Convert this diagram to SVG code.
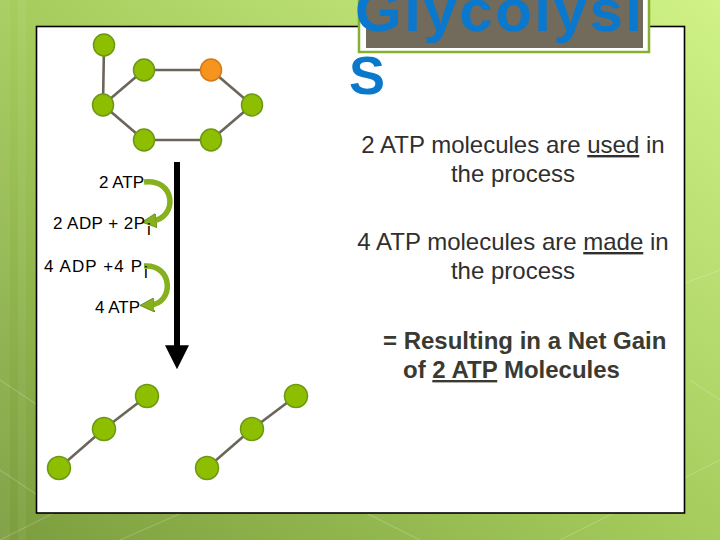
<svg xmlns="http://www.w3.org/2000/svg" width="720" height="540" viewBox="0 0 720 540">
<defs>
<linearGradient id="bg" x1="0" y1="1" x2="1" y2="0">
<stop offset="0" stop-color="#7c9d3e"/>
<stop offset="0.45" stop-color="#a2c85a"/>
<stop offset="1" stop-color="#d0f286"/>
</linearGradient>
<marker id="ah" viewBox="0 0 10 10" refX="2" refY="5" markerWidth="4" markerHeight="4" orient="auto-start-reverse" markerUnits="strokeWidth">
<path d="M0,0 L10,5 L0,10 z" fill="#000"/>
</marker>
<marker id="gh" viewBox="0 0 10 10" refX="3" refY="5" markerWidth="2.6" markerHeight="2.6" orient="auto" markerUnits="strokeWidth">
<path d="M0,0 L10,5 L0,10 z" fill="#86b01e" stroke="#5f8a10" stroke-width="0.6"/>
</marker>
</defs>
<style>
.n{fill:#8dbf00;stroke:#6c9814;stroke-width:1.5}
.o{fill:#f7941e;stroke:#d27a18;stroke-width:1.5}
.e{stroke:#6b665a;stroke-width:2.6;fill:none}
.lbl{font-family:"Liberation Sans",Arial,sans-serif;font-size:17px;fill:#000}
.body{font-family:"Liberation Sans",Arial,sans-serif;font-size:24px;fill:#2f2f2f}
.bold{font-family:"Liberation Sans",Arial,sans-serif;font-size:24px;font-weight:bold;fill:#3a3a30}
.title{font-family:"Liberation Sans",Arial,sans-serif;font-weight:bold;fill:#0a78cc}
.curl{fill:none;stroke:#86b01e;stroke-width:5.5}
</style>
<rect width="720" height="540" fill="url(#bg)"/>
<g stroke="#ffffff" stroke-opacity="0.18" stroke-width="1.2" fill="none">
<path d="M0,470 L60,510 L0,540"/>
<path d="M0,380 L90,440 L36,480"/>
<path d="M120,540 L280,470 L420,540"/>
<path d="M560,540 L720,460"/>
<path d="M640,300 L720,270"/>
<path d="M690,380 L720,400"/>
</g>
<g fill="#ffffff" fill-opacity="0.06">
<rect x="0" y="0" width="10" height="540"/>
<rect x="18" y="0" width="8" height="540"/>
</g>
<rect id="panel" x="36.5" y="26.5" width="648" height="486.5" fill="#ffffff" stroke="#000" stroke-width="1.6"/>
<g id="title">
<rect x="359" y="-10" width="290" height="62" fill="#ffffff" stroke="#86b030" stroke-width="2.5"/>
<rect x="366" y="-10" width="277" height="58" fill="#726a5b"/>
<text class="title" x="355" y="31" font-size="60" textLength="287" lengthAdjust="spacing">Glycolysi</text>
<text class="title" x="349" y="94" font-size="54">S</text>
</g>
<g id="connectors">
<line class="e" x1="104" y1="45" x2="103" y2="105"/>
<line class="e" x1="103" y1="105" x2="144" y2="70"/>
<line class="e" x1="144" y1="70" x2="211" y2="70"/>
<line class="e" x1="211" y1="70" x2="252" y2="105"/>
<line class="e" x1="252" y1="105" x2="211" y2="140"/>
<line class="e" x1="211" y1="140" x2="144" y2="140"/>
<line class="e" x1="144" y1="140" x2="103" y2="105"/>
<line class="e" x1="59" y1="468" x2="104" y2="429"/>
<line class="e" x1="104" y1="429" x2="147" y2="396"/>
<line class="e" x1="207" y1="468" x2="252" y2="429"/>
<line class="e" x1="252" y1="429" x2="296" y2="396"/>
<line x1="177" y1="162" x2="177" y2="350" stroke="#000" stroke-width="6" marker-end="url(#ah)"/>
<path class="curl" d="M144,182 C176,178 178,218 152,221" marker-end="url(#gh)"/>
<path class="curl" d="M144,266 C174,264 174,304 150,305" marker-end="url(#gh)"/>
</g>
<g id="n1"><ellipse class="n" cx="104" cy="45" rx="10.5" ry="11"/></g>
<g id="n2"><ellipse class="n" cx="144" cy="70" rx="10.5" ry="11"/></g>
<g id="n3"><ellipse class="o" cx="211" cy="70" rx="10.5" ry="11"/></g>
<g id="n4"><ellipse class="n" cx="252" cy="105" rx="10.5" ry="11"/></g>
<g id="n5"><ellipse class="n" cx="211" cy="140" rx="10.5" ry="11"/></g>
<g id="n6"><ellipse class="n" cx="144" cy="140" rx="10.5" ry="11"/></g>
<g id="n7"><ellipse class="n" cx="103" cy="105" rx="10.5" ry="11"/></g>
<g id="m1"><circle class="n" cx="59" cy="468" r="11.5"/></g>
<g id="m2"><circle class="n" cx="104" cy="429" r="11.5"/></g>
<g id="m3"><circle class="n" cx="147" cy="396" r="11.5"/></g>
<g id="m4"><circle class="n" cx="207" cy="468" r="11.5"/></g>
<g id="m5"><circle class="n" cx="252" cy="429" r="11.5"/></g>
<g id="m6"><circle class="n" cx="296" cy="396" r="11.5"/></g>
<g id="labels">
<text class="lbl" x="144" y="188" text-anchor="end">2 ATP</text>
<text class="lbl" x="53" y="229" textLength="92" lengthAdjust="spacing">2 ADP + 2P</text>
<text class="lbl" x="147" y="235" font-size="7">i</text>
<text class="lbl" x="44" y="272" textLength="98" lengthAdjust="spacing">4 ADP +4 P</text>
<text class="lbl" x="144" y="278" font-size="7">i</text>
<text class="lbl" x="140" y="313" text-anchor="end">4 ATP</text>
</g>
<g id="notes">
<text class="body" x="513" y="153" text-anchor="middle">2 ATP molecules are <tspan text-decoration="underline">used</tspan> in</text>
<text class="body" x="513" y="182" text-anchor="middle">the process</text>
<text class="body" x="513" y="250" text-anchor="middle">4 ATP molecules are <tspan text-decoration="underline">made</tspan> in</text>
<text class="body" x="513" y="279" text-anchor="middle">the process</text>
<text class="bold" x="383" y="349">= Resulting in a Net Gain</text>
<text class="bold" x="403" y="378">of <tspan text-decoration="underline">2 ATP</tspan> Molecules</text>
</g>
</svg>
